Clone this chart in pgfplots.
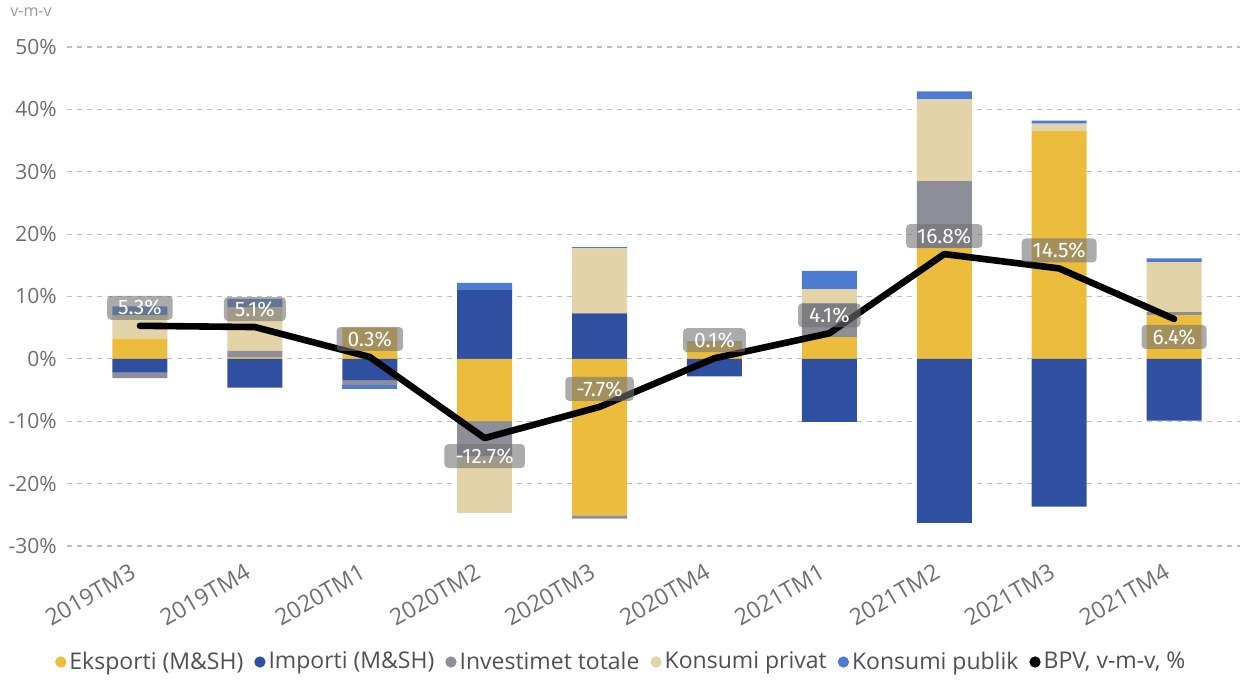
\documentclass[border=0pt]{standalone}
\usepackage{fontspec}
\setmainfont{Open Sans}
\newfontfamily\lblfont{Fira Sans}
\usepackage{pgfplots}
\usepackage{pgfplotstable}
\pgfplotsset{compat=1.18}

\definecolor{cExp}{HTML}{ECBD3C}
\definecolor{cImp}{HTML}{2F50A1}
\definecolor{cInv}{HTML}{8E8E98}
\definecolor{cPri}{HTML}{E2D3A9}
\definecolor{cPub}{HTML}{4C7BD1}
\definecolor{cGrid}{HTML}{BDBDBD}
\definecolor{cTick}{HTML}{6E6E6E}
\definecolor{cLeg}{HTML}{505050}

% contributions to growth, percentage points (signed)
\pgfplotstableread{
i exp   imp   inv   pri   pub
0 3.2   -2.2  -0.9  3.8   1.4
1 0.2   -4.6  1.1   7.0   1.3
2 5.0   -3.4  -0.8  0.0   -0.7
3 -10.0 11.0  -5.6  -9.1  1.2
4 -25.1 7.3   -0.5  10.4  0.2
5 2.6   -2.8  0.2   0.0   0.0
6 3.5   -10.1 5.4   2.3   2.9
7 17.8  -26.3 10.7  13.1  1.3
8 36.5  -23.7 0.0   1.2   0.5
9 7.0   -9.9  0.5   8.0   0.6
}\comp

% GDP y-o-y, dy = label offset in pt
\pgfplotstableread{
i gdp   dy
0 5.3   9
1 5.1   9
2 0.3   9
3 -12.7 -9
4 -7.7  9
5 0.1   9
6 4.1   9
7 16.8  9
8 14.5  9
9 6.4   -9
}\gdp

\pgfplotsset{
  base/.style={
    at={(33.5pt,74pt)}, anchor=south west,
    scale only axis, width=586.5pt, height=249.5pt,
    xmin=-0.635, xmax=9.574, ymin=-30, ymax=50,
    axis line style={draw=none}, major tick length=0pt,
    xtick={0,...,9}, ytick={-30,-20,...,50},
    clip=false,
  },
  bars/.style={base, ybar stacked, bar width=27.5pt,
    xticklabels={}, yticklabels={}},
}

\begin{document}
\begin{tikzpicture}
\useasboundingbox (0,0) rectangle (621.5pt,347pt);
\node[anchor=north west, inner sep=0pt, text=cGrid!80!black,
  font=\fontsize{8}{9}\selectfont] at (5pt,343.5pt) {v-m-v};

% positive parts + grid + tick labels
\begin{axis}[bars,
  ymajorgrids, grid style={cGrid, dash pattern=on 2.5pt off 2.5pt, line width=0.6pt},
  xticklabels={2019TM3,2019TM4,2020TM1,2020TM2,2020TM3,2020TM4,2021TM1,2021TM2,2021TM3,2021TM4},
  yticklabel={\pgfmathprintnumber{\tick}\%},
  /pgf/number format/assume math mode=true,
  yticklabel style={anchor=east, inner sep=0pt, xshift=-5pt, text=cTick,
    font=\fontsize{10.5}{12}\selectfont},
  xticklabel style={rotate=30, anchor=north east, inner sep=0pt,
    outer xsep=9pt, outer ysep=4.5pt,
    text=cTick, font=\fontsize{11.5}{13}\selectfont},
]
\addplot[fill=cExp, draw=none] table[x=i, y expr={max(\thisrow{exp},0)}]{\comp};
\addplot[fill=cImp, draw=none] table[x=i, y expr={max(\thisrow{imp},0)}]{\comp};
\addplot[fill=cInv, draw=none] table[x=i, y expr={max(\thisrow{inv},0)}]{\comp};
\addplot[fill=cPri, draw=none] table[x=i, y expr={max(\thisrow{pri},0)}]{\comp};
\addplot[fill=cPub, draw=none] table[x=i, y expr={max(\thisrow{pub},0)}]{\comp};
\end{axis}

% negative parts
\begin{axis}[bars]
\addplot[fill=cExp, draw=none] table[x=i, y expr={min(\thisrow{exp},0)}]{\comp};
\addplot[fill=cImp, draw=none] table[x=i, y expr={min(\thisrow{imp},0)}]{\comp};
\addplot[fill=cInv, draw=none] table[x=i, y expr={min(\thisrow{inv},0)}]{\comp};
\addplot[fill=cPri, draw=none] table[x=i, y expr={min(\thisrow{pri},0)}]{\comp};
\addplot[fill=cPub, draw=none] table[x=i, y expr={min(\thisrow{pub},0)}]{\comp};
\end{axis}

% GDP line, labels, legend
\begin{axis}[base, xticklabels={}, yticklabels={},
  legend columns=6,
  legend image code/.code={\fill[#1] (2.5pt,0pt) circle (2.6pt);},
  legend style={at={(0.473,-0.2325)}, anchor=center, draw=none, fill=none,
    font=\fontsize{11.5}{12}\selectfont, text=cLeg,
    nodes={inner xsep=1.5pt},
    /tikz/every even column/.append style={column sep=4pt}},
]
\addlegendimage{cExp}\addlegendentry{Eksporti (M\&SH)}
\addlegendimage{cImp}\addlegendentry{Importi (M\&SH)}
\addlegendimage{cInv}\addlegendentry{Investimet totale}
\addlegendimage{cPri}\addlegendentry{Konsumi privat}
\addlegendimage{cPub}\addlegendentry{Konsumi publik}
\addlegendimage{black}\addlegendentry{BPV, v-m-v, \%}
\addplot[black, line width=3.3pt, line join=round, line cap=round, mark=none, forget plot,
  point meta=explicit,
  visualization depends on={\thisrow{dy} \as \dy},
  nodes near coords={\pgfmathprintnumber[fixed, precision=1, fixed zerofill, assume math mode=true]{\pgfplotspointmeta}\%},
  nodes near coords align={center},
  every node near coord/.append style={yshift=\dy pt, anchor=center,
    fill=black!55, fill opacity=0.6, text opacity=1, text=white,
    rounded corners=2pt, inner xsep=5.5pt, inner ysep=0pt, minimum height=12pt,
    font=\lblfont\fontsize{10.5}{11}\selectfont},
] table[x=i, y=gdp, meta=gdp]{\gdp};
\end{axis}
\end{tikzpicture}
\end{document}
